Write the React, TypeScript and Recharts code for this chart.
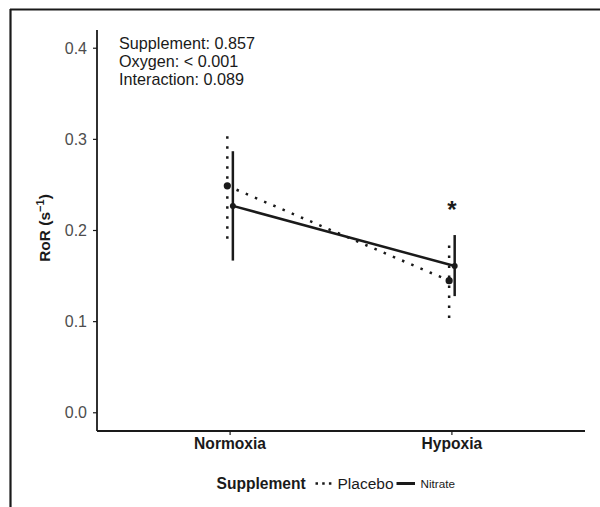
import React from 'react';
import { ComposedChart, Line, XAxis, YAxis, Scatter } from 'recharts';

const categories = ['Normoxia', 'Hypoxia'];
const categoryX = [1, 2];
const placeboMean = [0.249, 0.145];
const placeboLow = [0.191, 0.104];
const placeboHigh = [0.307, 0.184];
const nitrateMean = [0.227, 0.161];
const nitrateLow = [0.167, 0.128];
const nitrateHigh = [0.287, 0.195];
const yTicks = [0, 0.1, 0.2, 0.3, 0.4];
const annotationLines = ['Supplement: 0.857', 'Oxygen: < 0.001', 'Interaction: 0.089'];
const significance = [{ x: 2, y: 0.228, label: '*' }];

const DODGE = 0.0125;
const placeboX = categoryX.map((x) => x - DODGE);
const nitrateX = categoryX.map((x) => x + DODGE);

const placeboMeanData = placeboX.map((x, i) => ({ x, y: placeboMean[i] }));
const nitrateMeanData = nitrateX.map((x, i) => ({ x, y: nitrateMean[i] }));
const placeboErr = placeboX.map((x, i) => [
  { x, y: placeboLow[i] },
  { x, y: placeboHigh[i] },
]);
const nitrateErr = nitrateX.map((x, i) => [
  { x, y: nitrateLow[i] },
  { x, y: nitrateHigh[i] },
]);

const FONT = '"Liberation Sans", Arial, Helvetica, sans-serif';
const INK = '#1a1a1a';
const DOTS = '2.5 7.5';

export default function App() {
  return (
    <div style={{ position: 'absolute', left: 0, top: 0, width: 600, height: 507, background: '#fff', fontFamily: FONT }}>
      <ComposedChart
        width={600}
        height={507}
        margin={{ top: 30, right: 15, bottom: 46, left: 37 }}
        style={{ fontFamily: FONT }}
      >
        <XAxis
          dataKey="x"
          type="number"
          domain={[0.4, 2.6]}
          ticks={categoryX}
          tickFormatter={(v: number) => categories[categoryX.indexOf(v)] ?? ''}
          height={30}
          tickSize={4}
          tickMargin={3}
          axisLine={{ stroke: INK, strokeWidth: 1.8 }}
          tickLine={{ stroke: INK, strokeWidth: 1.2 }}
          tick={{ fill: '#1a1a1a', fontSize: 15.6, fontWeight: 'bold', fontFamily: FONT }}
          allowDataOverflow
        />
        <YAxis
          dataKey="y"
          type="number"
          domain={[-0.02, 0.42]}
          ticks={yTicks}
          tickFormatter={(v: number) => v.toFixed(1)}
          width={60}
          tickSize={4}
          tickMargin={6}
          axisLine={{ stroke: INK, strokeWidth: 1.8 }}
          tickLine={{ stroke: INK, strokeWidth: 1.2 }}
          tick={{ fill: '#4d4d4d', fontSize: 16, fontFamily: FONT }}
          allowDataOverflow
        />
        {placeboErr.map((d, i) => (
          <Line
            key={'pe' + i}
            data={d}
            dataKey="y"
            stroke={INK}
            strokeWidth={2.5}
            strokeDasharray={DOTS}
            dot={false}
            activeDot={false}
            isAnimationActive={false}
            legendType="none"
          />
        ))}
        {nitrateErr.map((d, i) => (
          <Line
            key={'ne' + i}
            data={d}
            dataKey="y"
            stroke={INK}
            strokeWidth={2.5}
            dot={false}
            activeDot={false}
            isAnimationActive={false}
            legendType="none"
          />
        ))}
        <Line
          data={placeboMeanData}
          dataKey="y"
          stroke={INK}
          strokeWidth={2.5}
          strokeDasharray={DOTS}
          dot={{ r: 3.6, fill: INK, stroke: 'none', strokeDasharray: '' }}
          activeDot={false}
          isAnimationActive={false}
        />
        <Line
          data={nitrateMeanData}
          dataKey="y"
          stroke={INK}
          strokeWidth={2.5}
          dot={{ r: 3, fill: INK, stroke: 'none' }}
          activeDot={false}
          isAnimationActive={false}
        />
        <Scatter
          data={significance}
          dataKey="y"
          isAnimationActive={false}
          shape={(p: any) => (
            <text x={p.cx} y={p.cy + 13} textAnchor="middle" fontSize={24} fontWeight="bold" fill={INK} fontFamily={FONT}>
              {p.payload?.label ?? '*'}
            </text>
          )}
        />
      </ComposedChart>
      <svg
        width={600}
        height={507}
        style={{ position: 'absolute', left: 0, top: 0, pointerEvents: 'none', fontFamily: FONT }}
      >
        <line x1={10} y1={9.5} x2={600} y2={9.5} stroke={INK} strokeWidth={2} />
        <line x1={10.5} y1={9} x2={10.5} y2={507} stroke={INK} strokeWidth={2.2} />
        {annotationLines.map((t, i) => (
          <text key={t} x={119} y={48.5 + i * 18.3} fontSize={16.2} fill="#1a1a1a">
            {t}
          </text>
        ))}
        <text
          x={50}
          y={228}
          transform="rotate(-90, 50, 228)"
          textAnchor="middle"
          fontSize={15.5}
          fontWeight="bold"
          fill="#1a1a1a"
        >
          RoR (s
          <tspan fontSize={11} dy={-6}>−1</tspan>
          <tspan dy={6}>)</tspan>
        </text>
        <text x={216.5} y={489} fontSize={15.6} fontWeight="bold" fill="#1a1a1a">Supplement</text>
        <line x1={315.5} y1={483.5} x2={333} y2={483.5} stroke={INK} strokeWidth={2.5} strokeDasharray="2.5 4.2" />
        <text x={337.5} y={489} fontSize={15.5} fill="#1a1a1a">Placebo</text>
        <line x1={396.5} y1={483.5} x2={415} y2={483.5} stroke={INK} strokeWidth={3} />
        <text x={420.5} y={487.5} fontSize={11.7} fill="#1a1a1a">Nitrate</text>
      </svg>
    </div>
  );
}
